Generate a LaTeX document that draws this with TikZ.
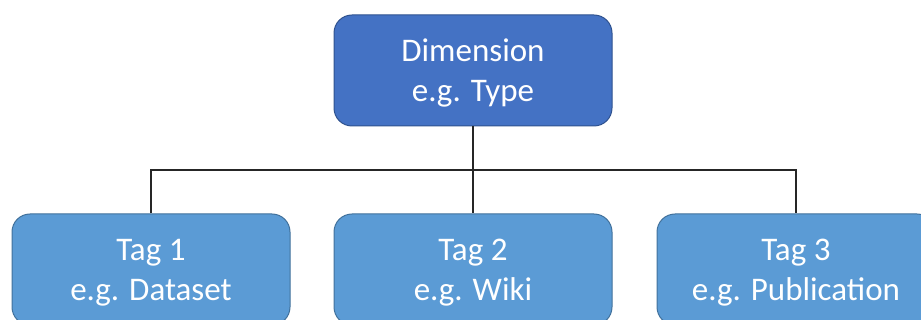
\documentclass[tikz,border=0pt]{standalone}
\usepackage{fontspec}
\setmainfont{Carlito}
\definecolor{dimfill}{HTML}{4472C4}
\definecolor{dimedge}{HTML}{2F528F}
\definecolor{tagfill}{HTML}{5B9BD5}
\definecolor{tagedge}{HTML}{41719C}
\definecolor{wire}{HTML}{262626}
\newcommand{\toplift}{\rule{0pt}{28pt}}
\begin{document}
\begin{tikzpicture}[x=1pt,y=-1pt,
  box/.style={rounded corners=18pt, line width=1pt, text=white,
    font=\fontsize{33}{40}\selectfont, align=center,
    minimum width=278pt, minimum height=111pt, inner sep=0pt},
  dimbox/.style={box, fill=dimfill, draw=dimedge},
  tagbox/.style={box, fill=tagfill, draw=tagedge},
  link/.style={draw=wire, line width=1.3pt}]
\useasboundingbox (0,0) rectangle (921,320);
\clip (0,0) rectangle (921,320);

% parent node
\node[dimbox] (dim) at (473,70.5) {\toplift Dimension\\e.g. Type};

% child nodes
\node[tagbox] (t1) at (151,269.5) {\toplift Tag 1\\e.g. Dataset};
\node[tagbox] (t2) at (473,269.5) {\toplift Tag 2\\e.g. Wiki};
\node[tagbox] (t3) at (796,269.5) {\toplift Tag 3\\e.g. Publication};

% tree connectors
\coordinate (bus) at (473,170);
\draw[link] (dim.south) -- (bus);
\draw[link] (t1.north) |- (bus) -| (t3.north);
\draw[link] (bus) -- (t2.north);
\end{tikzpicture}
\end{document}
